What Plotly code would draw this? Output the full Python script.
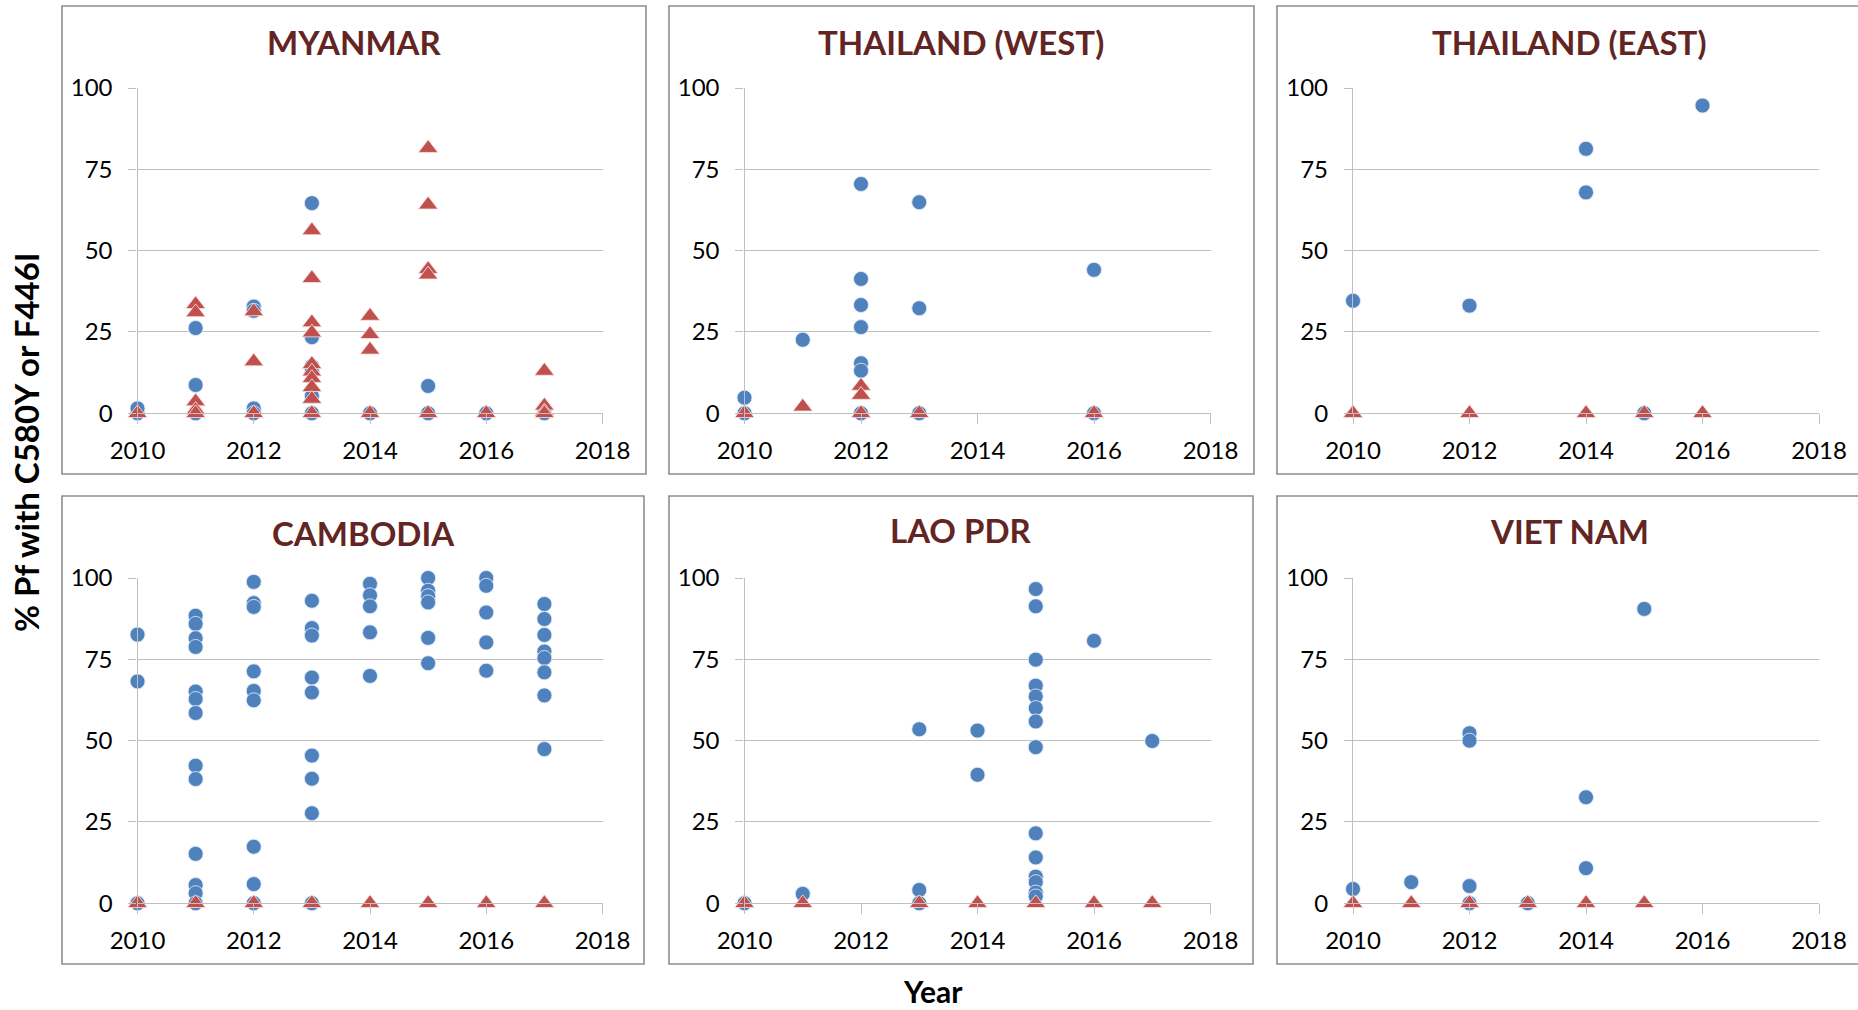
import plotly.graph_objects as go

# Share of P. falciparum isolates carrying each mutation, by survey year
years_ticks = [2010, 2012, 2014, 2016, 2018]
pct_ticks = [0, 25, 50, 75, 100]

# ---- MYANMAR ----
mmr_c580y_year = [2010, 2010, 2011, 2011, 2011, 2012, 2012, 2012, 2012,
                  2013, 2013, 2013, 2013, 2013, 2013, 2014, 2015, 2015, 2016, 2017]
mmr_c580y_pct = [0, 1.5, 26.2, 8.7, 0, 32.8, 31.5, 1.5, 0,
                 64.6, 23.4, 14.5, 13.0, 5.3, 0, 0, 8.4, 0, 0, 0]
mmr_f446i_year = [2010, 2011, 2011, 2011, 2011, 2011, 2012, 2012, 2012,
                  2013, 2013, 2013, 2013, 2013, 2013, 2013, 2013, 2013, 2013,
                  2014, 2014, 2014, 2014, 2015, 2015, 2015, 2015, 2015, 2016,
                  2017, 2017, 2017, 2017]
mmr_f446i_pct = [0, 33.5, 31.0, 3.6, 1.0, 0, 31.3, 15.9, 0,
                 56.2, 41.5, 27.9, 24.8, 15.1, 12.8, 10.8, 8.0, 4.4, 0,
                 29.9, 24.3, 19.5, 0, 81.5, 64.1, 44.3, 42.6, 0, 0,
                 13.0, 2.3, 0.5, 0]

# ---- THAILAND (WEST) ----
thw_c580y_year = [2010, 2010, 2011, 2012, 2012, 2012, 2012, 2012, 2012, 2012,
                  2013, 2013, 2013, 2016, 2016]
thw_c580y_pct = [4.8, 0, 22.6, 70.5, 41.3, 33.3, 26.5, 15.4, 13.1, 0,
                 64.9, 32.3, 0, 44.1, 0]
thw_f446i_year = [2010, 2011, 2012, 2012, 2012, 2013, 2016]
thw_f446i_pct = [0, 2.0, 8.4, 5.6, 0, 0, 0]

# ---- THAILAND (EAST) ----
the_c580y_year = [2010, 2012, 2014, 2014, 2015, 2016]
the_c580y_pct = [34.6, 33.1, 81.3, 67.9, 0, 94.6]
the_f446i_year = [2010, 2012, 2014, 2015, 2016]
the_f446i_pct = [0, 0, 0, 0, 0]

# ---- CAMBODIA ----
khm_c580y_year = [2010, 2010, 2010,
                  2011, 2011, 2011, 2011, 2011, 2011, 2011, 2011, 2011, 2011, 2011, 2011, 2011,
                  2012, 2012, 2012, 2012, 2012, 2012, 2012, 2012, 2012,
                  2013, 2013, 2013, 2013, 2013, 2013, 2013, 2013, 2013,
                  2014, 2014, 2014, 2014, 2014,
                  2015, 2015, 2015, 2015, 2015, 2015,
                  2016, 2016, 2016, 2016, 2016,
                  2017, 2017, 2017, 2017, 2017, 2017, 2017, 2017]
khm_c580y_pct = [82.6, 68.2, 0,
                 88.4, 85.9, 81.5, 78.8, 65.1, 62.8, 58.5, 42.3, 38.2, 15.2, 5.6, 3.1, 0,
                 98.8, 92.3, 91.1, 71.3, 65.3, 62.4, 17.4, 5.9, 0,
                 93.0, 84.6, 82.3, 69.4, 64.8, 45.4, 38.3, 27.7, 0,
                 98.2, 94.7, 91.3, 83.3, 69.9,
                 100.0, 96.1, 94.4, 92.5, 81.6, 73.8,
                 100.0, 97.6, 89.4, 80.2, 71.5,
                 92.0, 87.4, 82.5, 77.4, 75.4, 71.0, 63.9, 47.4]
khm_f446i_year = [2010, 2011, 2012, 2013, 2014, 2015, 2016, 2017]
khm_f446i_pct = [0, 0, 0, 0, 0, 0, 0, 0]

# ---- LAO PDR ----
lao_c580y_year = [2010, 2011, 2013, 2013, 2013, 2014, 2014,
                  2015, 2015, 2015, 2015, 2015, 2015, 2015, 2015, 2015, 2015, 2015, 2015, 2015, 2015,
                  2016, 2017]
lao_c580y_pct = [0, 2.9, 53.5, 4.1, 0, 53.1, 39.5,
                 96.6, 91.3, 74.9, 66.9, 63.6, 60.0, 55.9, 48.0, 21.5, 14.1, 8.2, 6.5, 3.3, 2.1,
                 80.7, 49.9]
lao_f446i_year = [2010, 2011, 2013, 2014, 2015, 2016, 2017]
lao_f446i_pct = [0, 0, 0, 0, 0, 0, 0]

# ---- VIET NAM ----
vnm_c580y_year = [2010, 2011, 2012, 2012, 2012, 2012, 2013, 2014, 2014, 2015]
vnm_c580y_pct = [4.4, 6.5, 52.3, 50.0, 5.3, 0, 0, 32.6, 10.8, 90.5]
vnm_f446i_year = [2010, 2011, 2012, 2013, 2014, 2015]
vnm_f446i_pct = [0, 0, 0, 0, 0, 0]

panel_titles = ["MYANMAR", "THAILAND (WEST)", "THAILAND (EAST)",
                "CAMBODIA", "LAO PDR", "VIET NAM"]
panel_data = [
    (mmr_c580y_year, mmr_c580y_pct, mmr_f446i_year, mmr_f446i_pct),
    (thw_c580y_year, thw_c580y_pct, thw_f446i_year, thw_f446i_pct),
    (the_c580y_year, the_c580y_pct, the_f446i_year, the_f446i_pct),
    (khm_c580y_year, khm_c580y_pct, khm_f446i_year, khm_f446i_pct),
    (lao_c580y_year, lao_c580y_pct, lao_f446i_year, lao_f446i_pct),
    (vnm_c580y_year, vnm_c580y_pct, vnm_f446i_year, vnm_f446i_pct),
]

# ---- page geometry (pixels) ----
W, H = 1858, 1010
FONT = "Lato, Carlito, Calibri, 'Open Sans', sans-serif"
BLUE = "#4F81BD"
RED = "#C0504D"
TITLE_RED = "#632523"
GRID = "#C0C0C0"
FRAME = "#8E8E8E"

plot_cols = [(137.5, 602.5), (744.5, 1210.5), (1353, 1819)]
plot_rows = [(88, 413.3), (578, 903.3)]
frame_cols = [[(62, 646), (669, 1254), (1277, 1864)],
              [(62, 644), (669, 1253), (1277, 1864)]]
frame_rows = [(6, 474), (496, 964)]
title_pos = [(354, 42), (961, 42), (1569, 42),
             (363, 533), (961, 530), (1569, 531)]


def px(x):
    return x / W


def py(y):
    return 1 - y / H


fig = go.Figure()
layout_axes = {}
shapes = []
annotations = []

for i, (title, (cy, cv, fy, fv)) in enumerate(zip(panel_titles, panel_data)):
    r, c = divmod(i, 3)
    n = "" if i == 0 else str(i + 1)
    xa, ya = "x" + n, "y" + n

    fig.add_trace(go.Scatter(
        x=cy, y=cv, xaxis=xa, yaxis=ya, mode="markers", name="C580Y",
        cliponaxis=False, showlegend=False,
        marker=dict(symbol="circle", size=15, color=BLUE,
                    line=dict(color="rgba(225,235,248,0.85)", width=1)),
    ))
    fig.add_trace(go.Scatter(
        x=fy, y=fv, xaxis=xa, yaxis=ya, mode="markers", name="F446I",
        cliponaxis=False, showlegend=False,
        marker=dict(symbol="triangle-up", size=17, color=RED,
                    line=dict(color="rgba(248,225,225,0.85)", width=1)),
    ))

    x0, x1 = plot_cols[c]
    y0, y1 = plot_rows[r]
    layout_axes["xaxis" + n] = dict(
        domain=[px(x0), px(x1)], anchor=ya, range=[2010, 2018],
        tickvals=years_ticks, ticks="outside", ticklen=10, tickwidth=1.3,
        tickcolor=GRID, showline=True, linecolor=GRID, linewidth=1.3,
        showgrid=False, zeroline=False, ticklabelstandoff=6, automargin=False,
        tickfont=dict(family=FONT, size=24, color="#000000"),
    )
    layout_axes["yaxis" + n] = dict(
        domain=[py(y1), py(y0)], anchor=xa, range=[0, 100],
        tickvals=pct_ticks, ticks="outside", ticklen=8, tickwidth=1.3,
        tickcolor=GRID, showline=True, linecolor=GRID, linewidth=1.3,
        showgrid=True, gridcolor=GRID, gridwidth=1.3, zeroline=False,
        ticklabelstandoff=11, automargin=False,
        tickfont=dict(family=FONT, size=24, color="#000000"),
    )

    fx0, fx1 = frame_cols[r][c]
    fy0, fy1 = frame_rows[r]
    shapes.append(dict(type="rect", xref="paper", yref="paper",
                       x0=px(fx0), x1=px(fx1), y0=py(fy1), y1=py(fy0),
                       line=dict(color=FRAME, width=1.6), layer="below"))

    tx, ty = title_pos[i]
    annotations.append(dict(
        text="<b>%s</b>" % title, xref="paper", yref="paper",
        x=px(tx), y=py(ty), xanchor="center", yanchor="middle", showarrow=False,
        font=dict(family=FONT, size=33, color=TITLE_RED),
    ))

annotations.append(dict(
    text="<b>% Pf with C580Y or F446I</b>", xref="paper", yref="paper",
    x=px(26), y=py(442), xanchor="center", yanchor="middle", showarrow=False,
    textangle=-90, font=dict(family=FONT, size=33, color="#000000"),
))
annotations.append(dict(
    text="<b>Year</b>", xref="paper", yref="paper",
    x=px(933), y=py(991), xanchor="center", yanchor="middle", showarrow=False,
    font=dict(family=FONT, size=30, color="#000000"),
))

fig.update_layout(
    width=W, height=H,
    margin=dict(l=0, r=0, t=0, b=0, pad=0, autoexpand=False),
    paper_bgcolor="white", plot_bgcolor="white",
    showlegend=False, shapes=shapes, annotations=annotations,
    **layout_axes,
)

fig.write_html("out.html")
